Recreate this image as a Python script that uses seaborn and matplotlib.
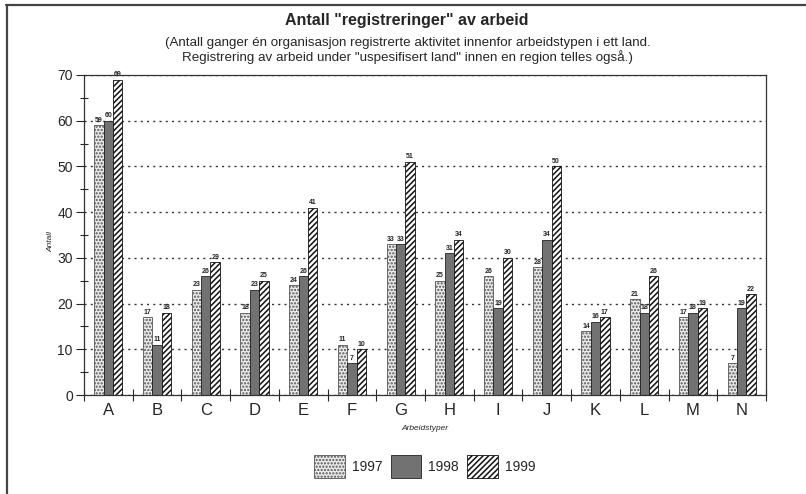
import numpy as np
import pandas as pd
import seaborn as sns
import matplotlib.pyplot as plt
from matplotlib.lines import Line2D
from matplotlib.ticker import MultipleLocator

kategorier = ['A', 'B', 'C', 'D', 'E', 'F', 'G', 'H', 'I', 'J', 'K', 'L', 'M', 'N']
aar = ['1997', '1998', '1999']
v1997 = [59, 17, 23, 18, 24, 11, 33, 25, 26, 28, 14, 21, 17, 7]
v1998 = [60, 11, 26, 23, 26, 7, 33, 31, 19, 34, 16, 18, 18, 19]
v1999 = [69, 18, 29, 25, 41, 10, 51, 34, 30, 50, 17, 26, 19, 22]

df = pd.DataFrame({
    'Arbeidstype': kategorier * 3,
    'Antall': v1997 + v1998 + v1999,
    'Aar': [a for a in aar for _ in kategorier],
})

sns.set_style('white')
plt.rcParams['font.family'] = ['Liberation Sans', 'DejaVu Sans']
plt.rcParams['hatch.linewidth'] = 1.1

fig = plt.figure(figsize=(8.06, 4.94), dpi=100)
ax = fig.add_axes([0.1042, 0.2004, 0.8462, 0.6478])

farger = {'1997': '#ececec', '1998': '#727272', '1999': '#ffffff'}
sns.barplot(data=df, x='Arbeidstype', y='Antall', hue='Aar', palette=farger,
            width=0.58, saturation=1, ax=ax, legend=False)

monstre = ['.....', None, '//////']
kanter = ['#555555', '#222222', '#111111']
for cont, h, k in zip(ax.containers, monstre, kanter):
    for p in cont.patches:
        p.set_edgecolor(k)
        p.set_linewidth(0.6)
        if h:
            p.set_hatch(h)
    ax.bar_label(cont, fontsize=5, fontweight='bold', padding=1)

ax.set_xlim(-0.5, 13.5)
ax.set_ylim(0, 70)
ax.set_yticks(range(0, 71, 10))
ax.yaxis.set_minor_locator(MultipleLocator(5))
ax.set_xticks(np.arange(-0.5, 14, 1), minor=True)
ax.tick_params(axis='y', which='major', direction='out', length=6, width=0.8,
               labelsize=10, pad=2, left=True)
ax.tick_params(axis='y', which='minor', direction='inout', length=6, width=0.8, left=True)
ax.tick_params(axis='x', which='major', length=0, labelsize=12, pad=6)
ax.tick_params(axis='x', which='minor', direction='inout', length=8, width=0.8, bottom=True)

ax.grid(axis='y', which='major', linestyle=(0, (1.5, 3)), color='#333333', linewidth=1)
ax.set_axisbelow(True)
for s in ax.spines.values():
    s.set_visible(True)
    s.set_color('#333333')
    s.set_linewidth(0.9)

ax.set_xlabel('Arbeidstyper', fontsize=6, fontstyle='italic')
ax.xaxis.set_label_coords(0.5, -0.095)
ax.set_ylabel('Antall', fontsize=6, fontstyle='italic')
ax.yaxis.set_label_coords(-0.044, 0.48)

fig.text(0.505, 0.958, 'Antall "registreringer" av arbeid', ha='center', va='center',
         fontsize=11.5, fontweight='bold')
fig.text(0.506, 0.898,
         '(Antall ganger én organisasjon registrerte aktivitet innenfor arbeidstypen i ett land.\n'
         'Registrering av arbeid under "uspesifisert land" innen en region telles også.)',
         ha='center', va='center', fontsize=9.6, linespacing=1.05)

ax.legend(ax.containers, aar, loc='center', ncol=3, frameon=False, fontsize=10,
          handlelength=2.2, handleheight=2.2, columnspacing=0.6, handletextpad=0.5)
leg = ax.get_legend()
leg.set_bbox_to_anchor((0.527, 0.055), transform=fig.transFigure)

fig.add_artist(Line2D([0.008, 1.0], [0.99, 0.99], transform=fig.transFigure,
                      color='#444444', linewidth=1.6))
fig.add_artist(Line2D([0.009, 0.009], [0.0, 0.99], transform=fig.transFigure,
                      color='#444444', linewidth=1.6))

fig.savefig('out.png', dpi=100)
